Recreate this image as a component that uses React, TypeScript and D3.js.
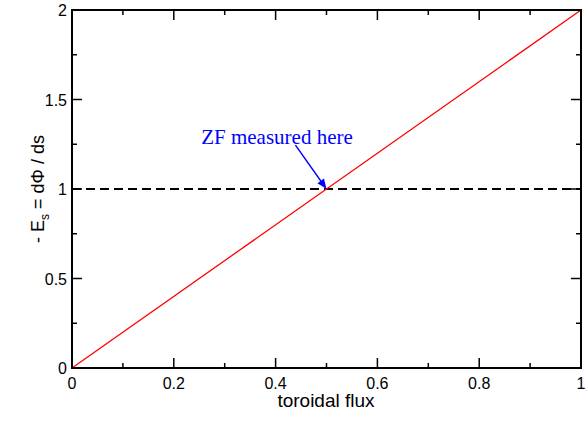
import React from "react";
import * as d3 from "d3";

const xTicks = [0, 0.2, 0.4, 0.6, 0.8, 1];
const yTicks = [0, 0.5, 1, 1.5, 2];
const xMinor = [0.1, 0.3, 0.5, 0.7, 0.9];
const yMinor = [0.25, 0.75, 1.25, 1.75];
const lineX = [0, 1];
const lineY = [0, 2];
const refLevel = 1;
const arrowFrom = [0.439, 1.245];
const arrowTo = [0.5, 1.0];

const W = 586;
const H = 423;
const margin = { top: 10, right: 5, bottom: 55, left: 72 };

export default function App() {
  const x = d3.scaleLinear().domain([0, 1]).range([margin.left, W - margin.right]);
  const y = d3.scaleLinear().domain([0, 2]).range([H - margin.bottom, margin.top]);
  const line = d3.line<number>().x((_, i) => x(lineX[i])).y((d) => y(d));
  const font = "Arial, 'Liberation Sans', sans-serif";
  const x0 = x(0), x1 = x(1), y0 = y(0), y1 = y(2);

  const ax = x(arrowFrom[0]), ay = y(arrowFrom[1]);
  const bx = x(arrowTo[0]), by = y(arrowTo[1]);
  const ang = Math.atan2(by - ay, bx - ax);
  const hl = 10, hw = 4;
  const head = [
    [bx, by],
    [bx - hl * Math.cos(ang) + hw * Math.sin(ang), by - hl * Math.sin(ang) - hw * Math.cos(ang)],
    [bx - hl * Math.cos(ang) - hw * Math.sin(ang), by - hl * Math.sin(ang) + hw * Math.cos(ang)],
  ];

  return (
    <svg width={W} height={H} style={{ position: "absolute", left: 0, top: 0 }}>
      <rect width={W} height={H} fill="white" />
      <line x1={x0} x2={x1} y1={y(refLevel)} y2={y(refLevel)} stroke="black" strokeWidth={2} strokeDasharray="9,5" />
      <path d={line(lineY) || ""} stroke="red" strokeWidth={1.3} fill="none" />
      {xTicks.map((t) => (
        <g key={"xt" + t}>
          <line x1={x(t)} x2={x(t)} y1={y0} y2={y0 - 10} stroke="black" strokeWidth={1.5} />
          <line x1={x(t)} x2={x(t)} y1={y1} y2={y1 + 10} stroke="black" strokeWidth={1.5} />
          <text x={x(t)} y={389} textAnchor="middle" fontFamily={font} fontSize={16}>{t}</text>
        </g>
      ))}
      {xMinor.map((t) => (
        <g key={"xm" + t}>
          <line x1={x(t)} x2={x(t)} y1={y0} y2={y0 - 5} stroke="black" strokeWidth={1.5} />
          <line x1={x(t)} x2={x(t)} y1={y1} y2={y1 + 5} stroke="black" strokeWidth={1.5} />
        </g>
      ))}
      {yTicks.map((t) => (
        <g key={"yt" + t}>
          <line x1={x0} x2={x0 + 10} y1={y(t)} y2={y(t)} stroke="black" strokeWidth={1.5} />
          <line x1={x1} x2={x1 - 10} y1={y(t)} y2={y(t)} stroke="black" strokeWidth={1.5} />
          <text x={67} y={y(t) + 6} textAnchor="end" fontFamily={font} fontSize={16}>{t}</text>
        </g>
      ))}
      {yMinor.map((t) => (
        <g key={"ym" + t}>
          <line x1={x0} x2={x0 + 5} y1={y(t)} y2={y(t)} stroke="black" strokeWidth={1.5} />
          <line x1={x1} x2={x1 - 5} y1={y(t)} y2={y(t)} stroke="black" strokeWidth={1.5} />
        </g>
      ))}
      <rect x={x0} y={y1} width={x1 - x0} height={y0 - y1} fill="none" stroke="black" strokeWidth={2} />
      <line x1={ax} y1={ay} x2={bx - 6 * Math.cos(ang)} y2={by - 6 * Math.sin(ang)} stroke="blue" strokeWidth={1.5} />
      <polygon points={head.map((p) => p.join(",")).join(" ")} fill="blue" />
      <text x={277} y={144} textAnchor="middle" fill="blue" fontFamily="'Liberation Serif', 'Times New Roman', serif" fontSize={21}>
        ZF measured here
      </text>
      <text x={326} y={407} textAnchor="middle" fontFamily={font} fontSize={19}>toroidal flux</text>
      <text transform={`translate(44,${(y0 + y1) / 2}) rotate(-90)`} textAnchor="middle" fontFamily={font} fontSize={18}>
        - E<tspan fontSize={12} dy={5}>s</tspan><tspan dy={-5}> = dΦ / ds</tspan>
      </text>
    </svg>
  );
}
